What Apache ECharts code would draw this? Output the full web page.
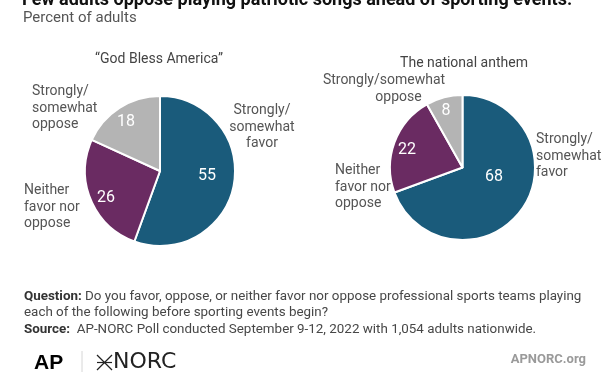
<!DOCTYPE html>
<html><head><meta charset="utf-8">
<script src="https://cdn.jsdelivr.net/npm/echarts@6/dist/echarts.min.js"></script>
<style>html,body{margin:0;padding:0;background:#fff}#c{width:612px;height:374px}</style>
</head><body><div id="c"></div>
<script>
const categories = ['Strongly/ somewhat favor', 'Neither favor nor oppose', 'Strongly/ somewhat oppose'];
const godBlessValues = [55, 26, 18];
const anthemValues = [68, 22, 8];
const pieTitles = ['\u201cGod Bless America\u201d', 'The national anthem'];
const godBlessLabels = ['Strongly/\nsomewhat\nfavor', 'Neither\nfavor nor\noppose', 'Strongly/\nsomewhat\noppose'];
const anthemLabels = ['Strongly/\nsomewhat\nfavor', 'Neither\nfavor nor\noppose', 'Strongly/somewhat\n{o|oppose}'];

const colors = ['#1a5b7b', '#6a2b62', '#b4b4b4'];
const FONT = 'Roboto, "Liberation Sans", sans-serif';

// label placements (layout only)
const valuePos = [
  [[207,176],[106,198],[126,122]],
  [[494,177],[407,150],[446,111]]
];
const namePos = [
  [{x:262,y:127,align:'center'},{x:24,y:207,align:'left'},{x:32,y:108,align:'left'}],
  [{x:536,y:156,align:'left'},{x:335,y:187,align:'left'},{x:384,y:89,align:'center'}]
];

function mkData(vals){
  return vals.map((v,i)=>({name:categories[i], value:v, itemStyle:{color:colors[i]}}));
}

function pieSeries(idx, vals, names, center, radius){
  const data = mkData(vals);
  return [{
    type:'pie', center:center, radius:radius, startAngle:90, clockwise:true,
    animation:false, silent:true,
    itemStyle:{borderColor:'#fff', borderWidth:2},
    label:{show:true, position:'inside', color:'#fff', fontSize:16, fontFamily:FONT, formatter:'{c}'},
    labelLine:{show:false},
    labelLayout:(p)=>({x:valuePos[idx][p.dataIndex][0], y:valuePos[idx][p.dataIndex][1], align:'center', verticalAlign:'middle'}),
    data:data
  },{
    type:'pie', center:center, radius:radius, startAngle:90, clockwise:true,
    animation:false, silent:true,
    itemStyle:{color:'rgba(0,0,0,0)', borderWidth:0},
    label:{show:true, position:'outside', overflow:'none', color:'#555', fontSize:14, lineHeight:16.5, fontFamily:FONT,
      formatter:(p)=>names[p.dataIndex],
      rich:{o:{fontSize:14, lineHeight:16.5, color:'#555', fontFamily:FONT, padding:[0,0,0,29]}}},
    labelLine:{show:false},
    labelLayout:(p)=>{const q=namePos[idx][p.dataIndex]; return {x:q.x, y:q.y, align:q.align, verticalAlign:'middle'};},
    data:data.map(d=>({name:d.name, value:d.value}))
  }];
}

const chart = echarts.init(document.getElementById('c'), null, {renderer:'canvas'});
chart.setOption({
  backgroundColor:'#fff',
  title:[
    {text:pieTitles[0], left:154, top:54, textAlign:'center', textVerticalAlign:'middle',
      textStyle:{fontSize:14, fontWeight:'normal', color:'#444', fontFamily:FONT}},
    {text:pieTitles[1], left:459, top:58, textAlign:'center', textVerticalAlign:'middle',
      textStyle:{fontSize:14, fontWeight:'normal', color:'#444', fontFamily:FONT}}
  ],
  series:[].concat(
    pieSeries(0, godBlessValues, godBlessLabels, [160,171], [0,75]),
    pieSeries(1, anthemValues, anthemLabels, [462.5,167.5], [0,72.5])
  ),
  graphic:[
    {type:'text', left:22, top:-9, style:{text:'Few adults oppose playing patriotic songs ahead of sporting events.', fontSize:18, fontWeight:'bold', fill:'#111', fontFamily:FONT}},
    {type:'text', left:23, top:11, style:{text:'Percent of adults', fontSize:15, fill:'#555', fontFamily:FONT}},
    {type:'text', left:24, top:288, style:{
      text:'{b|Question:} Do you favor, oppose, or neither favor nor oppose professional sports teams playing\neach of the following before sporting events begin?\n{b|Source:}  AP-NORC Poll conducted September 9-12, 2022 with 1,054 adults nationwide.',
      fontSize:13.4, lineHeight:16.5, fill:'#474747', fontFamily:FONT,
      rich:{b:{fontWeight:'bold', fontSize:13.4, lineHeight:16.5, fill:'#333', fontFamily:FONT}}}},
    {type:'text', left:34, top:353, style:{text:'AP', fontSize:21, fontWeight:900, fill:'#000', fontFamily:'"Liberation Sans", Roboto, sans-serif'}},
    {type:'line', shape:{x1:82, y1:351, x2:82, y2:372}, style:{stroke:'#d6d6d6', lineWidth:1}},
    {type:'line', shape:{x1:97, y1:355, x2:112, y2:370}, style:{stroke:'#222', lineWidth:1.2}},
    {type:'line', shape:{x1:97, y1:370, x2:112, y2:355}, style:{stroke:'#222', lineWidth:1.2}},
    {type:'line', shape:{x1:97, y1:362.5, x2:112, y2:362.5}, style:{stroke:'#222', lineWidth:1.2}},
    {type:'text', left:113, top:351, style:{text:'NORC', fontSize:22, fill:'#222', fontFamily:'"DejaVu Sans", Roboto, sans-serif'}},
    {type:'text', right:26, top:353, style:{text:'APNORC.org', fontSize:13, fontWeight:'bold', fill:'#9a9a9a', fontFamily:FONT}}
  ]
});
</script></body></html>
